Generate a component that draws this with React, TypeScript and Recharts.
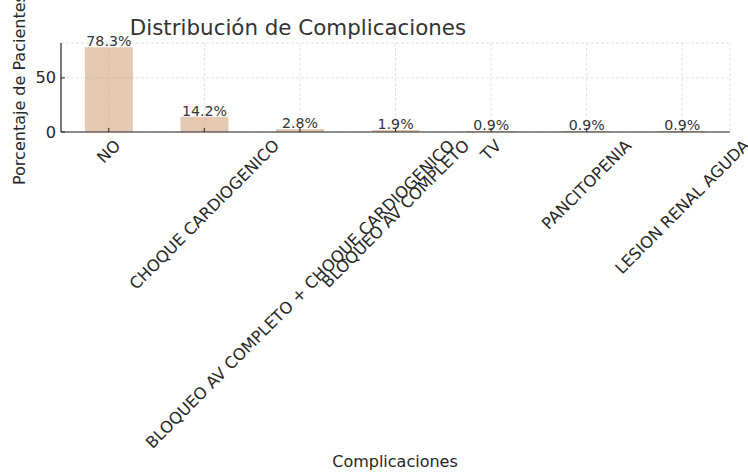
import { BarChart, Bar, XAxis, YAxis, CartesianGrid, LabelList } from "recharts"

const categories = [
    "NO",
    "CHOQUE CARDIOGENICO",
    "BLOQUEO AV COMPLETO + CHOQUE CARDIOGENICO",
    "BLOQUEO AV COMPLETO",
    "TV",
    "PANCITOPENIA",
    "LESION RENAL AGUDA",
]
const percentages = [78.3, 14.2, 2.8, 1.9, 0.9, 0.9, 0.9]
const yTicks = [0, 50]

const data = categories.map((name, i) => ({ name, pct: percentages[i] }))

const FONT = "'DejaVu Sans', sans-serif"
const INK = "#262626"
const TICK_SIZE = 16.2

let ctx: CanvasRenderingContext2D | null = null
function measure(text: string, size: number) {
    if (!ctx) ctx = document.createElement("canvas").getContext("2d")
    if (!ctx) return text.length * size * 0.65
    ctx.font = `${size}px 'DejaVu Sans'`
    return ctx.measureText(text).width
}

// rotated label, bounding box centred under the tick (matplotlib style)
function RotTick(props: any) {
    const { x, y, payload } = props
    const label = String(payload.value)
    const len = measure(label, TICK_SIZE)
    const h = TICK_SIZE * 1.0
    const box = (len + h) * Math.SQRT1_2
    const cy = y + 5 + box / 2
    return (
        <g>
            <line x1={x} x2={x} y1={y} y2={y - 4} stroke={INK} strokeWidth={1} />
            <text
                x={x}
                y={cy}
                textAnchor="middle"
                dominantBaseline="central"
                transform={`rotate(-45 ${x} ${cy})`}
                fontSize={TICK_SIZE}
                fontFamily={FONT}
                fill={INK}
            >
                {label}
            </text>
        </g>
    )
}

function YTick(props: any) {
    const { x, y, payload } = props
    return (
        <g>
            <line x1={x} x2={x + 4} y1={y} y2={y} stroke={INK} strokeWidth={1} />
            <text
                x={x - 5}
                y={y}
                textAnchor="end"
                dominantBaseline="central"
                fontSize={TICK_SIZE}
                fontFamily={FONT}
                fill={INK}
            >
                {payload.value}
            </text>
        </g>
    )
}

export default function App() {
    const yLabel = "Porcentaje de Pacientes"
    const yLabelLen = measure(yLabel, 16)
    const yLabelCy = 185 - yLabelLen / 2

    return (
        <div style={{ position: "absolute", left: 0, top: 0, width: 748, height: 472, background: "#fff" }}>
            <BarChart
                width={748}
                height={472}
                data={data}
                margin={{ top: 43, right: 18, left: 0, bottom: 0 }}
                barCategoryGap="25%"
            >
                <CartesianGrid stroke="#dadada" strokeDasharray="3 2" strokeWidth={0.8} />
                <XAxis
                    dataKey="name"
                    type="category"
                    interval={0}
                    height={340}
                    tickLine={false}
                    tickSize={0}
                    tickMargin={0}
                    axisLine={{ stroke: INK, strokeWidth: 1.2 }}
                    tick={<RotTick />}
                />
                <YAxis
                    width={61}
                    domain={[0, 82.2]}
                    ticks={yTicks}
                    tickLine={false}
                    tickSize={0}
                    tickMargin={0}
                    axisLine={{ stroke: INK, strokeWidth: 1.2 }}
                    tick={<YTick />}
                />
                <Bar dataKey="pct" fill="#cd9b73" fillOpacity={0.55} isAnimationActive={false}>
                    <LabelList
                        dataKey="pct"
                        position="top"
                        offset={1}
                        formatter={(v: any) => `${Number(v).toFixed(1)}%`}
                        fill="#333"
                        fontSize={14.2}
                        fontFamily={FONT}
                    />
                </Bar>
            </BarChart>
            <svg
                width={748}
                height={472}
                style={{ position: "absolute", left: 0, top: 0, pointerEvents: "none" }}
            >
                <text x={298} y={35} textAnchor="middle" fontSize={21.4} fontFamily={FONT} fill="#333">
                    Distribución de Complicaciones
                </text>
                <text
                    x={20}
                    y={yLabelCy}
                    textAnchor="middle"
                    dominantBaseline="central"
                    transform={`rotate(-90 20 ${yLabelCy})`}
                    fontSize={16}
                    fontFamily={FONT}
                    fill={INK}
                >
                    {yLabel}
                </text>
                <text x={395} y={467} textAnchor="middle" fontSize={16} fontFamily={FONT} fill={INK}>
                    Complicaciones
                </text>
            </svg>
        </div>
    )
}
